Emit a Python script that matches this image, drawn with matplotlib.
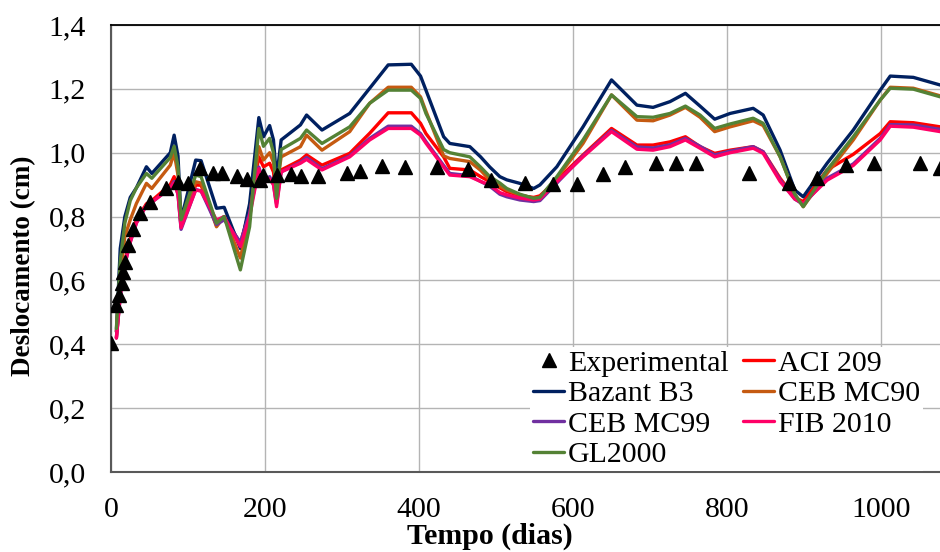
import matplotlib
matplotlib.use("Agg")
import matplotlib.pyplot as plt
from matplotlib.ticker import FuncFormatter

plt.rcParams['font.family'] = ['Liberation Serif', 'DejaVu Serif']

# Measured displacement (days, cm)
exp_t = [0, 7, 10, 14, 16, 18, 22, 28, 38, 51, 72, 87, 100, 116, 133, 144, 163, 176,
         193, 198, 215, 234, 247, 269, 306, 324, 352, 382, 423, 464, 493, 538, 574,
         605, 639, 667, 708, 734, 760, 828, 880, 917, 955, 991, 1050, 1077]
exp_y = [0.405, 0.523, 0.554, 0.591, 0.627, 0.659, 0.711, 0.760, 0.810, 0.847, 0.888,
         0.909, 0.904, 0.951, 0.937, 0.935, 0.927, 0.917, 0.914, 0.930, 0.930, 0.934,
         0.927, 0.927, 0.937, 0.944, 0.958, 0.954, 0.956, 0.948, 0.914, 0.906, 0.902,
         0.902, 0.933, 0.956, 0.967, 0.967, 0.967, 0.935, 0.904, 0.920, 0.961, 0.969,
         0.967, 0.952]

# Model predictions, all evaluated at the same ages (days)
t = [7, 12, 18, 25, 33, 46, 53, 77, 82, 87, 91, 110, 117, 137, 147, 168, 180, 192,
     198, 206, 211, 215, 221, 246, 254, 274, 310, 336, 360, 390, 402, 409, 432, 440,
     466, 480, 492, 505, 514, 531, 549, 557, 579, 613, 650, 683, 704, 726, 746, 765,
     784, 804, 834, 847, 869, 888, 899, 930, 964, 999, 1012, 1042, 1077]

aci209 = [0.42, 0.56, 0.66, 0.73, 0.79, 0.84, 0.85, 0.90, 0.925, 0.88, 0.768, 0.899,
          0.898, 0.773, 0.80, 0.716, 0.82, 0.987, 0.956, 0.967, 0.94, 0.852, 0.946,
          0.977, 0.993, 0.961, 0.998, 1.061, 1.125, 1.125, 1.092, 1.06, 0.987, 0.951,
          0.946, 0.925, 0.909, 0.89, 0.878, 0.866, 0.860, 0.865, 0.914, 0.993, 1.076,
          1.024, 1.024, 1.034, 1.050, 1.019, 0.998, 1.008, 1.019, 1.003, 0.92, 0.86,
          0.847, 0.946, 0.995, 1.06, 1.097, 1.094, 1.081]

bazant_b3 = [0.44, 0.70, 0.80, 0.86, 0.89, 0.956, 0.935, 1.00, 1.055, 0.99, 0.79,
             0.977, 0.975, 0.826, 0.829, 0.70, 0.84, 1.11, 1.05, 1.085, 1.04, 0.92,
             1.04, 1.087, 1.118, 1.071, 1.123, 1.202, 1.275, 1.277, 1.24, 1.196, 1.050,
             1.029, 1.019, 0.987, 0.955, 0.925, 0.915, 0.904, 0.888, 0.899, 0.956,
             1.081, 1.228, 1.149, 1.142, 1.160, 1.186, 1.146, 1.105, 1.123, 1.139,
             1.118, 1.008, 0.883, 0.862, 0.967, 1.071, 1.196, 1.240, 1.236, 1.212]

ceb_mc90 = [0.44, 0.62, 0.737, 0.79, 0.841, 0.904, 0.888, 0.961, 1.0, 0.93, 0.78,
            0.909, 0.905, 0.768, 0.80, 0.67, 0.80, 1.019, 0.977, 1.0, 0.97, 0.89,
            0.987, 1.019, 1.055, 1.008, 1.066, 1.155, 1.205, 1.205, 1.175, 1.13, 0.99,
            0.982, 0.972, 0.945, 0.914, 0.895, 0.883, 0.868, 0.857, 0.860, 0.92, 1.029,
            1.181, 1.102, 1.100, 1.118, 1.142, 1.111, 1.066, 1.081, 1.100, 1.085,
            0.987, 0.87, 0.831, 0.935, 1.040, 1.165, 1.205, 1.202, 1.178]

ceb_mc99 = [0.42, 0.55, 0.65, 0.72, 0.78, 0.835, 0.845, 0.89, 0.91, 0.87, 0.76, 0.885,
            0.88, 0.775, 0.79, 0.72, 0.81, 0.955, 0.91, 0.925, 0.9, 0.84, 0.94, 0.97,
            0.985, 0.95, 0.99, 1.045, 1.083, 1.083, 1.06, 1.035, 0.96, 0.935, 0.928,
            0.91, 0.895, 0.87, 0.862, 0.852, 0.847, 0.85, 0.905, 0.99, 1.07, 1.018,
            1.015, 1.025, 1.045, 1.02, 0.993, 1.005, 1.019, 1.003, 0.915, 0.855, 0.838,
            0.92, 0.965, 1.045, 1.088, 1.087, 1.073]

fib_2010 = [0.42, 0.55, 0.65, 0.72, 0.78, 0.835, 0.845, 0.89, 0.905, 0.87, 0.765,
            0.883, 0.88, 0.789, 0.80, 0.706, 0.80, 0.95, 0.904, 0.918, 0.9, 0.831,
            0.94, 0.967, 0.979, 0.946, 0.987, 1.040, 1.076, 1.076, 1.055, 1.03, 0.955,
            0.930, 0.925, 0.91, 0.899, 0.875, 0.868, 0.858, 0.852, 0.855, 0.909, 0.987,
            1.066, 1.011, 1.008, 1.019, 1.040, 1.014, 0.987, 1.0, 1.014, 0.998, 0.91,
            0.855, 0.841, 0.914, 0.96, 1.04, 1.083, 1.080, 1.066]

gl2000 = [0.45, 0.66, 0.78, 0.85, 0.89, 0.935, 0.92, 0.985, 1.02, 0.956, 0.79, 0.93,
          0.925, 0.779, 0.80, 0.633, 0.768, 1.076, 1.02, 1.045, 1.0, 0.857, 1.01,
          1.045, 1.071, 1.029, 1.081, 1.155, 1.196, 1.196, 1.170, 1.123, 1.01, 1.0,
          0.987, 0.955, 0.925, 0.905, 0.888, 0.870, 0.857, 0.860, 0.925, 1.040, 1.181,
          1.113, 1.111, 1.123, 1.146, 1.118, 1.076, 1.090, 1.108, 1.092, 0.987, 0.87,
          0.831, 0.946, 1.050, 1.165, 1.202, 1.199, 1.175]

x_ticks = [0, 200, 400, 600, 800, 1000]
y_ticks = [0.0, 0.2, 0.4, 0.6, 0.8, 1.0, 1.2, 1.4]

W, H = 940, 552
fig = plt.figure(figsize=(W / 100, H / 100), dpi=100)
ax = fig.add_axes([111 / W, (H - 472) / H, (W - 111) / W, (472 - 25) / H])

lw = 2.4
style = dict(lw=lw, zorder=3, solid_joinstyle='round', solid_capstyle='round')
ax.plot(t, aci209, color='#FF0000', label='ACI 209', **style)
ax.plot(t, bazant_b3, color='#002060', label='Bazant B3', **style)
ax.plot(t, ceb_mc90, color='#C55A11', label='CEB MC90', **style)
ax.plot(t, ceb_mc99, color='#7030A0', label='CEB MC99', **style)
ax.plot(t, fib_2010, color='#FF0066', label='FIB 2010', **style)
ax.plot(t, gl2000, color='#548235', label='GL2000', **style)
ax.plot(exp_t, exp_y, linestyle='none', marker='^', ms=10.5, color='black',
        label='Experimental', zorder=5)

ax.set_xlim(0, (W - 111) / 0.77)
ax.set_ylim(0, 1.4)
ax.set_xticks(x_ticks)
ax.set_yticks(y_ticks)
ax.yaxis.set_major_formatter(FuncFormatter(lambda v, p: f"{v:.1f}".replace('.', ',')))
ax.grid(True, color='#B4B4B4', lw=1.0, zorder=0)
ax.set_axisbelow(True)
ax.tick_params(length=0, labelsize=21.5, colors='black')
ax.tick_params(axis='y', pad=18)
ax.tick_params(axis='x', pad=18)

for side in ('left', 'bottom'):
    ax.spines[side].set_color('#595959')
    ax.spines[side].set_linewidth(1.5)
ax.spines['top'].set_color('black')
ax.spines['top'].set_linewidth(1.3)
ax.spines['right'].set_visible(False)

ax.set_xlabel('Tempo (dias)', fontsize=21.5, fontweight='bold')
ax.xaxis.set_label_coords((490 - 111) / (W - 111), -(536 - 472) / (472 - 25),
                          transform=ax.transAxes)
ax.xaxis.label.set_va('center')
ax.set_ylabel('Deslocamento (cm)', fontsize=19.5, fontweight='bold')
ax.yaxis.set_label_coords(-(111 - 24) / (W - 111), (472 - 266) / (472 - 25),
                          transform=ax.transAxes)
ax.yaxis.label.set_va('center')

handles, labels = ax.get_legend_handles_labels()
by_label = dict(zip(labels, handles))
order = ['Experimental', 'Bazant B3', 'CEB MC99', 'GL2000', 'ACI 209', 'CEB MC90', 'FIB 2010']
leg = ax.legend([by_label[k] for k in order], order, ncol=2, loc='upper left',
                bbox_to_anchor=(530 / W, 1 - 347 / H), bbox_transform=fig.transFigure,
                fontsize=21.5, frameon=True, fancybox=False, borderpad=0.1,
                handlelength=1.05, handletextpad=0.12, columnspacing=0.47,
                labelspacing=0.12, borderaxespad=0, numpoints=1)
leg.get_frame().set_facecolor('white')
leg.get_frame().set_edgecolor('none')
leg.get_frame().set_alpha(1)
leg.set_zorder(10)

fig.savefig('out.png', dpi=100)
